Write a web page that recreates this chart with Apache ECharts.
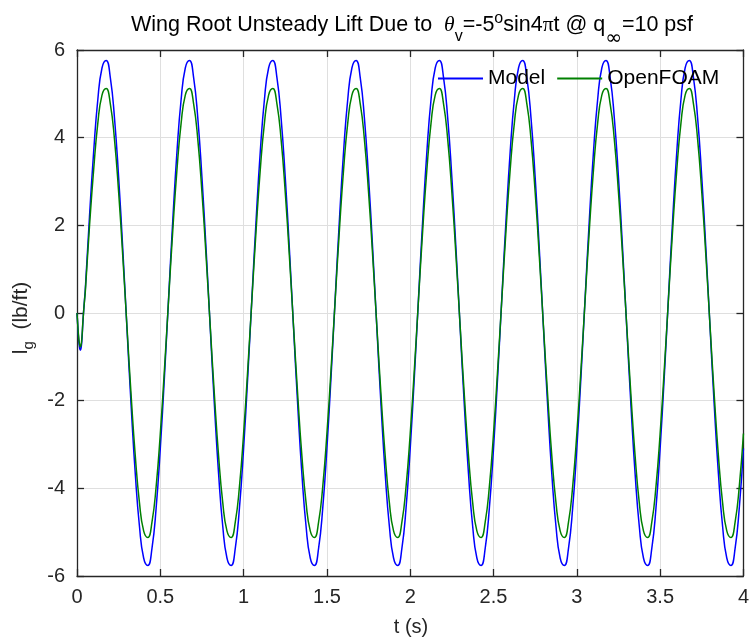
<!DOCTYPE html>
<html>
<head>
<meta charset="utf-8">
<script src="https://cdn.jsdelivr.net/npm/echarts@6/dist/echarts.min.js"></script>
<style>
html,body{margin:0;padding:0;background:#fff;}
#chart{width:752px;height:640px;}
</style>
</head>
<body>
<div id="chart"></div>
<script>
// time samples (s)
const timeS = [
  0,0.005,0.01,0.015,0.02,0.025,0.03,0.035,0.04,0.045,
  0.05,0.075,0.1,0.125,0.15,0.175,0.2,0.225,0.25,0.275,0.3,0.325,0.35,0.375,0.4,0.425,0.45,0.475,0.5,0.525,
  0.55,0.575,0.6,0.625,0.65,0.675,0.7,0.725,0.75,0.775,0.8,0.825,0.85,0.875,0.9,0.925,0.95,0.975,1,1.025,
  1.05,1.075,1.1,1.125,1.15,1.175,1.2,1.225,1.25,1.275,1.3,1.325,1.35,1.375,1.4,1.425,1.45,1.475,1.5,1.525,
  1.55,1.575,1.6,1.625,1.65,1.675,1.7,1.725,1.75,1.775,1.8,1.825,1.85,1.875,1.9,1.925,1.95,1.975,2,2.025,
  2.05,2.075,2.1,2.125,2.15,2.175,2.2,2.225,2.25,2.275,2.3,2.325,2.35,2.375,2.4,2.425,2.45,2.475,2.5,2.525,
  2.55,2.575,2.6,2.625,2.65,2.675,2.7,2.725,2.75,2.775,2.8,2.825,2.85,2.875,2.9,2.925,2.95,2.975,3,3.025,
  3.05,3.075,3.1,3.125,3.15,3.175,3.2,3.225,3.25,3.275,3.3,3.325,3.35,3.375,3.4,3.425,3.45,3.475,3.5,3.525,
  3.55,3.575,3.6,3.625,3.65,3.675,3.7,3.725,3.75,3.775,3.8,3.825,3.85,3.875,3.9,3.925,3.95,3.975,4
];
// Model lift (lb/ft)
const modelLift = [
  0,-0.32,-0.6,-0.78,-0.85,-0.79,-0.58,-0.24,0.05,0.3,
  0.55,2.2,3.68,4.87,5.59,5.76,5.37,4.45,3.09,1.44,-0.36,-2.12,-3.68,-4.87,-5.59,-5.76,-5.37,-4.45,-3.09,-1.44,
  0.36,2.12,3.68,4.87,5.59,5.76,5.37,4.45,3.09,1.44,-0.36,-2.12,-3.68,-4.87,-5.59,-5.76,-5.37,-4.45,-3.09,-1.44,
  0.36,2.12,3.68,4.87,5.59,5.76,5.37,4.45,3.09,1.44,-0.36,-2.12,-3.68,-4.87,-5.59,-5.76,-5.37,-4.45,-3.09,-1.44,
  0.36,2.12,3.68,4.87,5.59,5.76,5.37,4.45,3.09,1.44,-0.36,-2.12,-3.68,-4.87,-5.59,-5.76,-5.37,-4.45,-3.09,-1.44,
  0.36,2.12,3.68,4.87,5.59,5.76,5.37,4.45,3.09,1.44,-0.36,-2.12,-3.68,-4.87,-5.59,-5.76,-5.37,-4.45,-3.09,-1.44,
  0.36,2.12,3.68,4.87,5.59,5.76,5.37,4.45,3.09,1.44,-0.36,-2.12,-3.68,-4.87,-5.59,-5.76,-5.37,-4.45,-3.09,-1.44,
  0.36,2.12,3.68,4.87,5.59,5.76,5.37,4.45,3.09,1.44,-0.36,-2.12,-3.68,-4.87,-5.59,-5.76,-5.37,-4.45,-3.09,-1.44,
  0.36,2.12,3.68,4.87,5.59,5.76,5.37,4.45,3.09,1.44,-0.36,-2.12,-3.68,-4.87,-5.59,-5.76,-5.37,-4.45,-3.09
];
// OpenFOAM lift (lb/ft)
const foamLift = [
  0,-0.3,-0.55,-0.71,-0.77,-0.72,-0.53,-0.22,0.05,0.28,
  0.5,1.98,3.27,4.33,4.97,5.12,4.77,3.96,2.75,1.28,-0.32,-1.89,-3.27,-4.33,-4.97,-5.12,-4.77,-3.96,-2.75,-1.28,
  0.32,1.89,3.27,4.33,4.97,5.12,4.77,3.96,2.75,1.28,-0.32,-1.89,-3.27,-4.33,-4.97,-5.12,-4.77,-3.96,-2.75,-1.28,
  0.32,1.89,3.27,4.33,4.97,5.12,4.77,3.96,2.75,1.28,-0.32,-1.89,-3.27,-4.33,-4.97,-5.12,-4.77,-3.96,-2.75,-1.28,
  0.32,1.89,3.27,4.33,4.97,5.12,4.77,3.96,2.75,1.28,-0.32,-1.89,-3.27,-4.33,-4.97,-5.12,-4.77,-3.96,-2.75,-1.28,
  0.32,1.89,3.27,4.33,4.97,5.12,4.77,3.96,2.75,1.28,-0.32,-1.89,-3.27,-4.33,-4.97,-5.12,-4.77,-3.96,-2.75,-1.28,
  0.32,1.89,3.27,4.33,4.97,5.12,4.77,3.96,2.75,1.28,-0.32,-1.89,-3.27,-4.33,-4.97,-5.12,-4.77,-3.96,-2.75,-1.28,
  0.32,1.89,3.27,4.33,4.97,5.12,4.77,3.96,2.75,1.28,-0.32,-1.89,-3.27,-4.33,-4.97,-5.12,-4.77,-3.96,-2.75,-1.28,
  0.32,1.89,3.27,4.33,4.97,5.12,4.77,3.96,2.75,1.28,-0.32,-1.89,-3.27,-4.33,-4.97,-5.12,-4.77,-3.96,-2.75
];
const seriesNames = ['Model', 'OpenFOAM'];
const xTickValues = [0, 0.5, 1, 1.5, 2, 2.5, 3, 3.5, 4];
const yTickValues = [-6, -4, -2, 0, 2, 4, 6];

const FONT = 'Liberation Sans, Arial, Helvetica, sans-serif';
const INK = '#262626';

const chart = echarts.init(document.getElementById('chart'), null, {renderer: 'canvas'});

const modelData = timeS.map((t, i) => [t, modelLift[i]]);
const foamData = timeS.map((t, i) => [t, foamLift[i]]);

const baseX = {
  type: 'value', min: xTickValues[0], max: xTickValues[xTickValues.length - 1], interval: 0.5,
  axisLine: {show: true, onZero: false, lineStyle: {color: INK, width: 1.3}},
  axisTick: {show: true, inside: true, length: 7, lineStyle: {color: INK, width: 1.3}},
  splitLine: {show: false}
};
const baseY = {
  type: 'value', min: yTickValues[0], max: yTickValues[yTickValues.length - 1], interval: 2,
  axisLine: {show: true, onZero: false, lineStyle: {color: INK, width: 1.3}},
  axisTick: {show: true, inside: true, length: 7, lineStyle: {color: INK, width: 1.3}},
  splitLine: {show: false}
};

const tStyle = {fontFamily: FONT, fontSize: 21.5, fontWeight: 'normal', color: '#000', lineHeight: 56};

const option = {
  backgroundColor: '#fff',
  animation: false,
  title: {
    left: 407, top: -8, textAlign: 'center',
    text: '{a|Wing Root Unsteady Lift Due to }{th|θ}{sub|v}{a|=-5}{sup|o}{a|sin4}{pi|π}{a|t @ q}{inf|∞}{a|=10 psf}',
    textStyle: {
      fontWeight: 'normal',
      rich: {
        a: tStyle,
        th: Object.assign({}, tStyle, {fontFamily: 'Liberation Serif, serif', fontStyle: 'italic', padding: [0, 0, 0, 6]}),
        pi: Object.assign({}, tStyle, {fontFamily: 'Liberation Serif, serif'}),
        sub: {fontFamily: FONT, fontSize: 16, fontWeight: 'normal', color: '#000', verticalAlign: 'top', padding: [32, 0, 0, 0]},
        inf: {fontFamily: 'DejaVu Sans, sans-serif', fontSize: 20, fontWeight: 'normal', color: '#000', verticalAlign: 'top', padding: [32, 0, 0, 0]},
        sup: {fontFamily: FONT, fontSize: 16, fontWeight: 'normal', color: '#000', verticalAlign: 'top', padding: [14, 0, 0, 0]}
      }
    }
  },
  legend: {
    left: 438, top: 68, padding: 0,
    itemWidth: 45, itemHeight: 2, itemGap: 12,
    icon: 'rect',
    data: seriesNames,
    textStyle: {fontFamily: FONT, fontSize: 21, color: '#000'}
  },
  grid: {left: 77, right: 6, top: 50, bottom: 64, containLabel: false},
  xAxis: [
    Object.assign({}, baseX, {
      position: 'bottom',
      splitLine: {show: true, lineStyle: {color: '#dfdfdf', width: 1}},
      axisLabel: {show: true, fontFamily: FONT, fontSize: 20, color: INK, margin: 11,
        formatter: v => String(v)}
    }),
    Object.assign({}, baseX, {position: 'top', axisLabel: {show: false}})
  ],
  yAxis: [
    Object.assign({}, baseY, {
      position: 'left',
      splitLine: {show: true, lineStyle: {color: '#dfdfdf', width: 1}},
      axisLabel: {show: true, fontFamily: FONT, fontSize: 20, color: INK, margin: 12,
        formatter: v => String(v)}
    }),
    Object.assign({}, baseY, {position: 'right', axisLabel: {show: false}})
  ],
  graphic: [
    {
      type: 'text', x: 411, y: 627,
      style: {text: 't (s)', font: '20px ' + FONT, fill: INK, align: 'center', verticalAlign: 'middle'}
    },
    {
      type: 'text', x: 21, y: 318, rotation: Math.PI / 2,
      style: {
        text: '{a|l}{s|g}{a|  (lb/ft)}', align: 'center', verticalAlign: 'middle',
        rich: {
          a: {fontFamily: FONT, fontSize: 21, fill: INK, lineHeight: 30},
          s: {fontFamily: FONT, fontSize: 15, fill: INK, lineHeight: 13, verticalAlign: 'bottom'}
        }
      }
    }
  ],
  series: [
    {
      name: seriesNames[0], type: 'line', xAxisIndex: 0, yAxisIndex: 0,
      data: modelData, smooth: 0.5, showSymbol: false, symbol: 'none',
      lineStyle: {color: '#0000ff', width: 1.5}, itemStyle: {color: '#0000ff'},
      clip: true, z: 2
    },
    {
      name: seriesNames[1], type: 'line', xAxisIndex: 0, yAxisIndex: 0,
      data: foamData, smooth: 0.5, showSymbol: false, symbol: 'none',
      lineStyle: {color: '#008000', width: 1.5}, itemStyle: {color: '#008000'},
      clip: true, z: 3
    }
  ]
};
chart.setOption(option);
</script>
</body>
</html>
